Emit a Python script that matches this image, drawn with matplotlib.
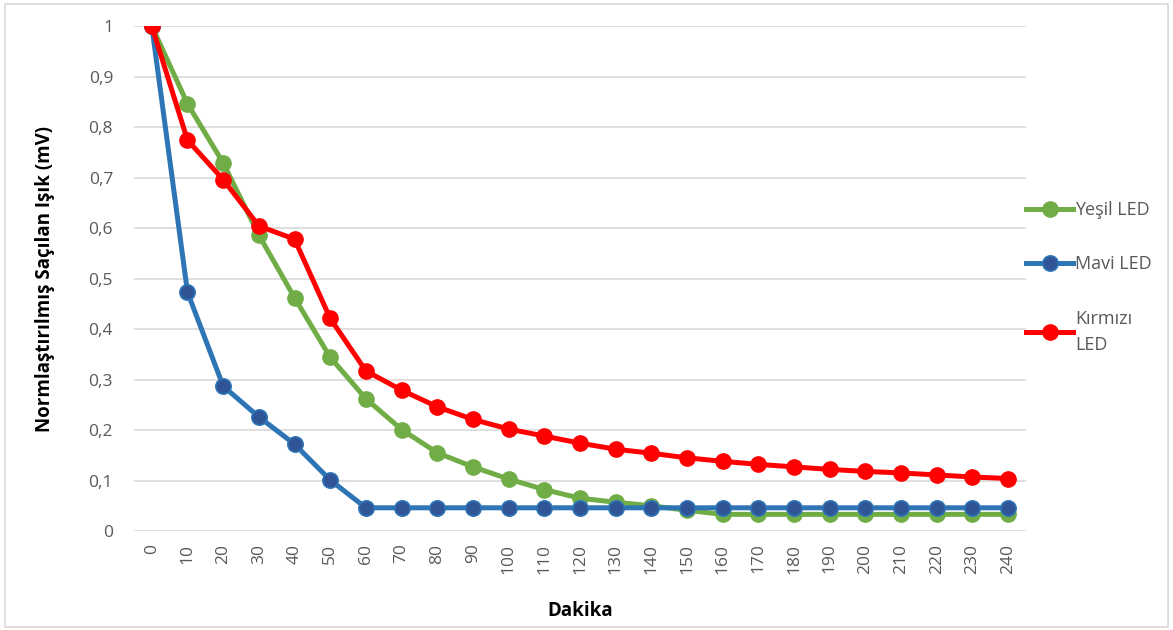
import matplotlib.pyplot as plt
import matplotlib.patches as patches
from matplotlib.ticker import FuncFormatter
import numpy as np

plt.rcParams['font.family'] = ['Open Sans', 'DejaVu Sans']

# dakika (kategori ekseni)
dakika = [0, 10, 20, 30, 40, 50, 60, 70, 80, 90, 100, 110, 120,
          130, 140, 150, 160, 170, 180, 190, 200, 210, 220, 230, 240]

yesil = [1.0, 0.846, 0.729, 0.586, 0.462, 0.344, 0.262, 0.201, 0.155, 0.127,
         0.103, 0.082, 0.065, 0.057, 0.050, 0.041, 0.033, 0.033, 0.033, 0.033,
         0.033, 0.033, 0.033, 0.033, 0.033]
mavi = [1.0, 0.473, 0.287, 0.226, 0.172, 0.101, 0.046, 0.046, 0.046, 0.046,
        0.046, 0.046, 0.046, 0.046, 0.046, 0.046, 0.046, 0.046, 0.046, 0.046,
        0.046, 0.046, 0.046, 0.046, 0.046]
kirmizi = [1.0, 0.774, 0.696, 0.604, 0.578, 0.421, 0.317, 0.279, 0.246, 0.221,
           0.202, 0.188, 0.174, 0.162, 0.154, 0.145, 0.138, 0.132, 0.127, 0.122,
           0.118, 0.115, 0.111, 0.107, 0.104]

etiketler = ['Yeşil LED', 'Mavi LED', 'Kırmızı\nLED']

fig = plt.figure(figsize=(11.73, 6.3), dpi=100)
ax = fig.add_axes([0.1142, 0.1571, 0.7605, 0.8016])

x = np.arange(len(dakika))

#serileri çiz
ax.plot(x, yesil, color='#70AD47', lw=3.6, marker='o', ms=11,
        mfc='#70AD47', mec='#70AD47', label=etiketler[0], zorder=3)
ax.plot(x, mavi, color='#2E75B6', lw=3.6, marker='o', ms=11,
        mfc='#2F5597', mec='#2E75B6', mew=1.2, label=etiketler[1], zorder=4)
ax.plot(x, kirmizi, color='#FF0000', lw=3.6, marker='o', ms=11,
        mfc='#FF0000', mec='#FF0000', label=etiketler[2], zorder=5)

ax.set_xlim(-0.5, len(dakika) - 0.5)
ax.set_ylim(0, 1)
ax.set_xticks(x)
ax.set_xticklabels([str(d) for d in dakika], rotation=90)
ax.set_yticks(np.arange(0, 1.01, 0.1))
ax.yaxis.set_major_formatter(FuncFormatter(
    lambda v, pos: ('%g' % round(v, 1)).replace('.', ',')))

ax.tick_params(axis='both', length=0, labelsize=12.5, colors='#595959', pad=9)
ax.tick_params(axis='y', pad=15)
ax.grid(axis='y', color='#D9D9D9', lw=1.2)
ax.set_axisbelow(True)
for s in ax.spines.values():
    s.set_visible(False)

ax.set_xlabel('Dakika', fontsize=13.5, fontweight='bold', labelpad=20)
ax.set_ylabel('Normlaştırılmış Saçılan Işık (mV)', fontsize=13.5,
              fontweight='bold', labelpad=24)

leg = ax.legend(loc='upper left', bbox_to_anchor=(0.982, 0.685), frameon=False,
                fontsize=13, handlelength=2.6, handletextpad=0.1,
                labelspacing=2.0, labelcolor='#595959')
for t in leg.get_texts():
    t.set_linespacing(1.6)

#dış çerçeve
fig.patches.append(patches.Rectangle((0.004, 0.004), 0.992, 0.99,
                                     transform=fig.transFigure, fill=False,
                                     edgecolor='#D9D9D9', lw=1.2))

fig.savefig('out.png', dpi=100)
